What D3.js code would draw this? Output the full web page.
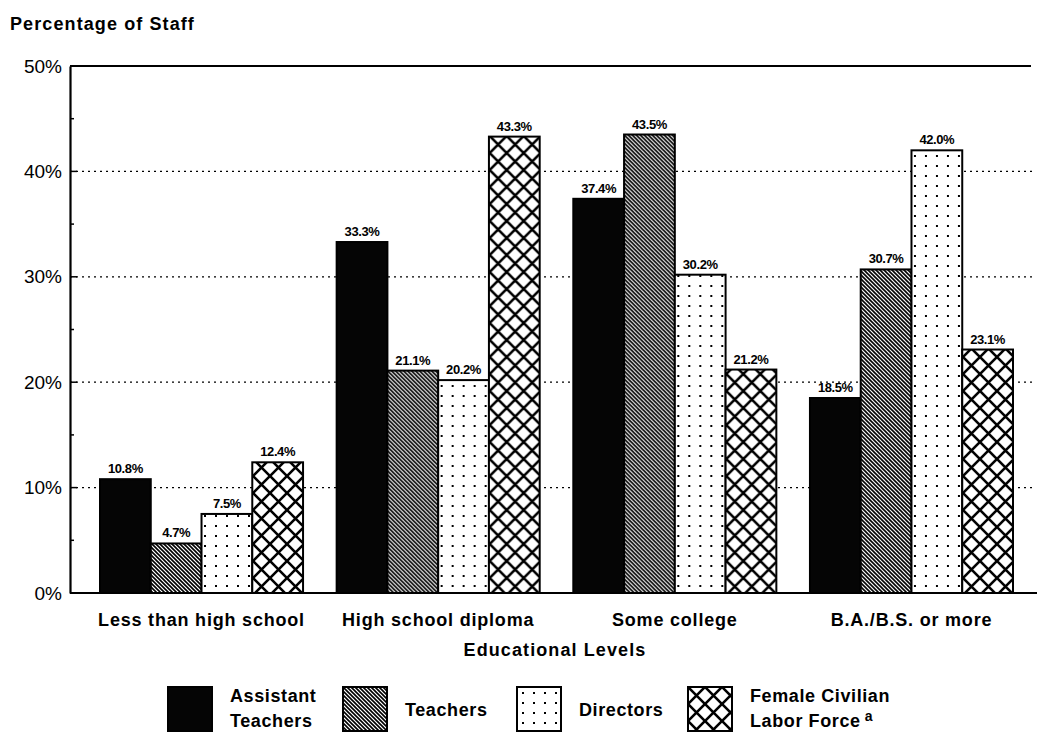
<!DOCTYPE html>
<html>
<head>
<meta charset="utf-8">
<script src="https://cdn.jsdelivr.net/npm/d3@7"></script>
<style>
  body { margin: 0; background: #fff; }
  text { font-family: "Liberation Sans", Arial, sans-serif; fill: #000; }
</style>
</head>
<body>
<svg id="chart" width="1037" height="738"></svg>
<script>
// data
var levels = ["Less than high school", "High school diploma", "Some college", "B.A./B.S. or more"];
var seriesNames = ["Assistant Teachers", "Teachers", "Directors", "Female Civilian Labor Force"];
var assistantTeachers = [10.8, 33.3, 37.4, 18.5];
var teachers = [4.7, 21.1, 43.5, 30.7];
var directors = [7.5, 20.2, 30.2, 42.0];
var femaleLaborForce = [12.4, 43.3, 21.2, 23.1];
var yTicks = [0, 10, 20, 30, 40, 50];

var allSeries = [assistantTeachers, teachers, directors, femaleLaborForce];
var fills = ["url(#solid)", "url(#diag)", "url(#dots)", "url(#cross)"];

var svg = d3.select("#chart");

// patterns
var defs = svg.append("defs");
defs.append("pattern").attr("id", "solid").attr("width", 8).attr("height", 8)
    .attr("patternUnits", "userSpaceOnUse")
  .append("rect").attr("width", 8).attr("height", 8).attr("fill", "#050505");

var diag = defs.append("pattern").attr("id", "diag").attr("width", 4).attr("height", 4)
    .attr("patternUnits", "userSpaceOnUse");
diag.append("rect").attr("width", 4).attr("height", 4).attr("fill", "#fff");
diag.append("path").attr("d", "M-1,-1 L5,5 M-1,3 L1,5 M3,-1 L5,1")
    .attr("stroke", "#000").attr("stroke-width", 1.6);

var dots = defs.append("pattern").attr("id", "dots").attr("width", 11).attr("height", 10)
    .attr("patternUnits", "userSpaceOnUse");
dots.append("rect").attr("width", 11).attr("height", 10).attr("fill", "#fff");
dots.append("rect").attr("x", 5).attr("y", 5).attr("width", 2).attr("height", 2).attr("fill", "#000");

var cross = defs.append("pattern").attr("id", "cross").attr("width", 17).attr("height", 17)
    .attr("patternUnits", "userSpaceOnUse");
cross.append("rect").attr("width", 17).attr("height", 17).attr("fill", "#fff");
cross.append("path").attr("d", "M0,0 L17,17 M17,0 L0,17 M-2,15 L2,19 M15,-2 L19,2 M-2,2 L2,-2 M15,19 L19,15")
    .attr("stroke", "#000").attr("stroke-width", 2.6);

var plotLeft = 70, plotTop = 66, plotBottom = 593, plotRight = 1037;

var y = d3.scaleLinear().domain([0, 50]).range([plotBottom, plotTop]);
var x0 = d3.scaleBand().domain(levels).range([100, 1013]).paddingInner(0.142).paddingOuter(0);
var x1 = d3.scaleBand().domain(d3.range(4)).range([0, x0.bandwidth()]);

// dotted gridlines
svg.append("g").selectAll("line")
    .data([10, 20, 30, 40])
  .enter().append("line")
    .attr("x1", plotLeft).attr("x2", plotRight - 4)
    .attr("y1", function(d) { return y(d); })
    .attr("y2", function(d) { return y(d); })
    .attr("stroke", "#000").attr("stroke-width", 1.3)
    .attr("stroke-dasharray", "2,4");

// bars
var group = svg.append("g").selectAll("g")
    .data(levels)
  .enter().append("g")
    .attr("transform", function(d) { return "translate(" + x0(d) + ",0)"; });

group.selectAll("rect")
    .data(function(d, i) { return allSeries.map(function(s, k) { return { k: k, v: s[i] }; }); })
  .enter().append("rect")
    .attr("x", function(d) { return x1(d.k); })
    .attr("y", function(d) { return y(d.v); })
    .attr("width", x1.bandwidth())
    .attr("height", function(d) { return y(0) - y(d.v); })
    .attr("fill", function(d) { return fills[d.k]; })
    .attr("stroke", "#000").attr("stroke-width", 2);

group.selectAll("text")
    .data(function(d, i) { return allSeries.map(function(s, k) { return { k: k, v: s[i] }; }); })
  .enter().append("text")
    .attr("x", function(d) { return x1(d.k) + x1.bandwidth() / 2; })
    .attr("y", function(d) { return y(d.v) - 6; })
    .attr("text-anchor", "middle")
    .attr("font-size", 13).attr("font-weight", "bold")
    .attr("letter-spacing", -0.4)
    .text(function(d) { return d.v.toFixed(1) + "%"; });

// y axis
var yAxis = svg.append("g")
    .attr("transform", "translate(" + plotLeft + ",0)")
    .call(d3.axisLeft(y).tickValues(yTicks).tickSize(0).tickPadding(8)
      .tickFormat(function(d) { return d + "%"; }));
yAxis.select(".domain").attr("stroke", "#000").attr("stroke-width", 2.2);
yAxis.selectAll("text").attr("font-size", 19).attr("font-family", "Liberation Sans, Arial, sans-serif")
    .attr("fill", "#000");

// inner ticks every 5%
svg.append("g").selectAll("line")
    .data(d3.range(5, 50, 5))
  .enter().append("line")
    .attr("x1", plotLeft).attr("x2", function(d) { return plotLeft + (d % 10 === 0 ? 7 : 4); })
    .attr("y1", function(d) { return y(d); }).attr("y2", function(d) { return y(d); })
    .attr("stroke", "#000").attr("stroke-width", 1.5);

// top and bottom frame lines
svg.append("line").attr("x1", plotLeft).attr("x2", plotRight - 6).attr("y1", y(50)).attr("y2", y(50))
    .attr("stroke", "#000").attr("stroke-width", 2);
svg.append("line").attr("x1", plotLeft).attr("x2", plotRight).attr("y1", y(0)).attr("y2", y(0))
    .attr("stroke", "#000").attr("stroke-width", 2.2);

// x labels
svg.append("g").selectAll("text")
    .data(levels)
  .enter().append("text")
    .attr("x", function(d) { return x0(d) + x0.bandwidth() / 2; })
    .attr("y", 626)
    .attr("text-anchor", "middle")
    .attr("font-size", 18).attr("font-weight", "bold").attr("letter-spacing", 0.8)
    .text(function(d) { return d; });

svg.append("text").attr("x", 555).attr("y", 656).attr("text-anchor", "middle")
    .attr("font-size", 18).attr("font-weight", "bold").attr("letter-spacing", 1.1)
    .text("Educational Levels");

svg.append("text").attr("x", 10).attr("y", 30)
    .attr("font-size", 18).attr("font-weight", "bold").attr("letter-spacing", 1.1)
    .text("Percentage of Staff");

// legend
var legendX = [168, 343, 517, 688];
var legend = svg.append("g").selectAll("g")
    .data(seriesNames)
  .enter().append("g")
    .attr("transform", function(d, i) { return "translate(" + legendX[i] + ",687)"; });

legend.append("rect")
    .attr("width", 44).attr("height", 44)
    .attr("fill", function(d, i) { return fills[i]; })
    .attr("stroke", "#000").attr("stroke-width", 2);

var legendLines = [["Assistant", "Teachers"], ["Teachers"], ["Directors"], ["Female Civilian", "Labor Force"]];
legend.each(function(d, i) {
  var g = d3.select(this);
  var lines = legendLines[i];
  var t = g.append("text").attr("x", 62)
      .attr("font-size", 18).attr("font-weight", "bold").attr("letter-spacing", 0.6);
  lines.forEach(function(l, j) {
    t.append("tspan").attr("x", 62)
      .attr("y", lines.length === 1 ? 29 : 15 + j * 25)
      .text(l);
  });
  if (i === 3) {
    t.append("tspan").attr("dx", 4).attr("dy", -6).attr("font-size", 14).text("a");
  }
});
</script>
</body>
</html>
